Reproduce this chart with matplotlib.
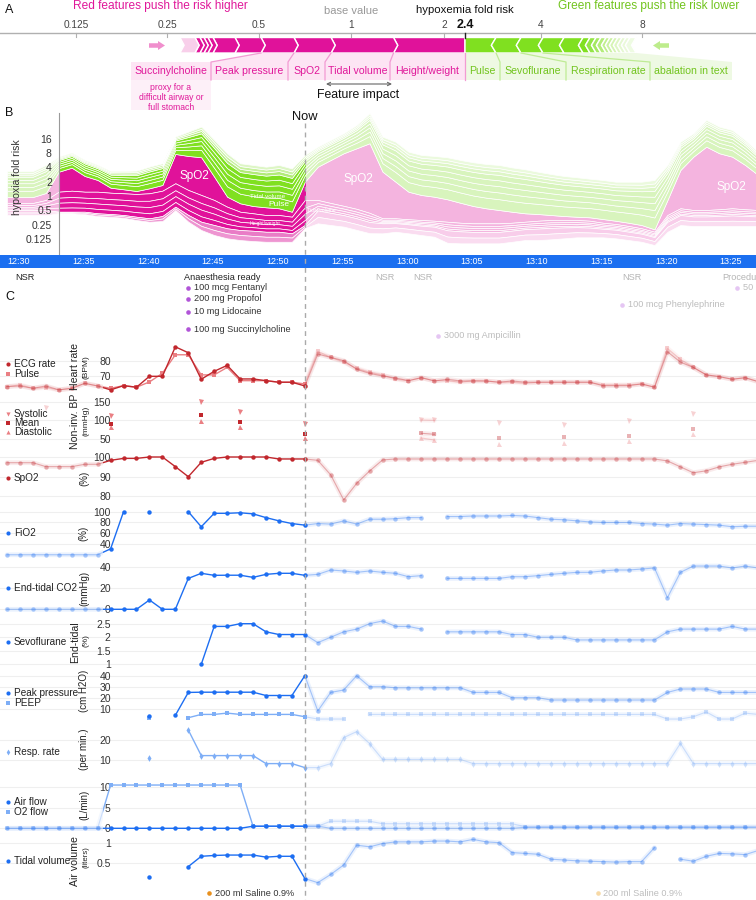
import numpy as np
import matplotlib
matplotlib.use('Agg')
import matplotlib.pyplot as plt
from matplotlib.patches import Polygon, Rectangle, FancyArrow

plt.rcParams['font.family'] = ['Liberation Sans', 'DejaVu Sans']

nan = np.nan
# ---------------------------------------------------------------- data
# Panel A : force plot (contributions in doublings = log2 fold risk)
output_risk = 2.4
axis_ticks = [0.125, 0.25, 0.5, 1, 2, 4, 8]
axis_tick_labels = ['0.125', '0.25', '0.5', '1', '2', '4', '8']
red_features = ['Height/weight', 'Tidal volume', 'SpO2', 'Peak pressure', 'Succinylcholine',
                'r6', 'r7', 'r8', 'r9', 'r10', 'r11']
red_push_log2 = [0.806, 0.674, 0.403, 0.358, 0.283, 0.239, 0.055, 0.043, 0.044, 0.054, 0.163]
green_features = ['Pulse', 'Sevoflurane', 'Respiration rate', 'abalation in text',
                  'g5', 'g6', 'g7', 'g8', 'g9', 'g10', 'g11', 'g12', 'g13', 'g14', 'g15', 'g16']
green_push_log2 = [0.301, 0.242, 0.214, 0.208, 0.188, 0.069, 0.060, 0.049, 0.050, 0.039,
                   0.040, 0.039, 0.040, 0.040, 0.039, 0.060]
red_box_labels = ['Succinylcholine', 'Peak pressure', 'SpO2', 'Tidal volume', 'Height/weight']
green_box_labels = ['Pulse', 'Sevoflurane', 'Respiration rate', 'abalation in text']

# Panel B : risk over time (one sample per minute, index 0 = 12:29)
minutes = np.arange(59)
now_index = 23
out_log2 = [
    -0.07, -0.07, -0.07, 0.21, 1.70, 1.98, 1.40, 1.12, 0.58, 0.47,
    0.35, 0.54, 0.77, 2.94, 2.80, 2.71, 1.35, -0.05, -0.51, -0.70,
    -0.79, -0.86, -1.10, 1.00, 2.05, 2.52, 2.99, 3.34, 3.69, 1.70,
    1.00, 0.30, 0.07, -0.05, -0.23, -0.47, -0.70, -0.86, -0.98, -1.10,
    -1.21, -1.26, -1.33, -1.40, -1.45, -1.49, -1.61, -1.73, -1.87, -2.03,
    -2.33, -0.28, 1.82, 2.75, 3.45, 2.99, 2.75, 2.17, 1.47]
spo2_log2 = [
    0.42, 0.42, 0.42, 0.49, 1.40, 1.61, 1.10, 0.82, 0.35, 0.28,
    0.21, 0.35, 0.40, 2.05, 2.38, 2.64, 1.63, 0.70, 0.59, 0.51,
    0.54, 0.47, 0.35, 1.28, 2.33, 3.01, 3.68, 4.24, 4.87, 3.26,
    2.56, 1.93, 1.75, 1.68, 1.57, 1.40, 1.21, 1.05, 0.93, 0.77,
    0.59, 0.47, 0.35, 0.28, 0.23, 0.24, 0.26, 0.23, 0.23, 0.23,
    0.17, 1.05, 2.68, 3.73, 4.43, 3.92, 3.61, 3.10, 2.45]
red_minor_log2 = [
    0.49, 0.49, 0.49, 0.70, 1.40, 1.47, 1.40, 1.51, 1.49, 1.52,
    1.59, 1.75, 1.77, 1.64, 1.75, 1.87, 1.75, 1.51, 1.28, 1.22,
    1.17, 1.17, 1.16, 1.75, 0.73, 0.69, 0.65, 0.66, 0.64, 0.35,
    0.34, 0.35, 0.40, 0.42, 0.60, 0.60, 0.60, 0.60, 0.60, 0.55,
    0.52, 0.55, 0.55, 0.52, 0.50, 0.48, 0.42, 0.40, 0.40, 0.38,
    0.38, 0.47, 0.47, 0.45, 0.45, 0.47, 0.50, 0.47, 0.45]
red_light_log2 = [
    0.35, 0.35, 0.35, 0.35, 0.11, 0.11, 0.16, 0.19, 0.19, 0.19,
    0.23, 0.24, 0.35, 0.23, 0.47, 0.58, 0.70, 0.70, 0.70, 0.72,
    0.70, 0.70, 0.59, 0.21, 0.90, 0.85, 0.80, 0.81, 0.78, 0.70,
    0.60, 0.63, 0.65, 0.70, 0.87, 0.84, 0.80, 0.80, 0.80, 0.78,
    0.76, 0.80, 0.80, 0.76, 0.71, 0.68, 0.60, 0.60, 0.58, 0.56,
    0.55, 0.70, 0.70, 0.67, 0.67, 0.70, 0.74, 0.70, 0.67]
green_log2 = [
    1.82, 1.82, 1.82, 1.96, 1.05, 1.05, 1.12, 1.05, 1.17, 1.28,
    1.42, 1.51, 1.52, 1.21, 1.70, 2.14, 2.57, 3.03, 2.80, 2.87,
    2.84, 3.03, 3.03, 1.87, 1.40, 1.40, 1.40, 1.63, 2.10, 2.45,
    2.80, 2.80, 2.80, 2.85, 2.94, 2.99, 3.06, 3.10, 3.15, 3.10,
    3.08, 2.96, 2.87, 2.80, 2.76, 2.70, 2.73, 2.73, 2.87, 3.03,
    3.45, 2.45, 1.98, 1.63, 1.87, 1.86, 1.87, 1.75, 1.61]
red_minor_share = [0.30, 0.25, 0.25, 0.20]
red_light_share = [0.5, 0.5]
green_share = [0.24, 0.15, 0.14, 0.13, 0.12, 0.08, 0.07, 0.07]
risk_ticks = [0.125, 0.25, 0.5, 1, 2, 4, 8, 16]
clock_labels = ['12:30', '12:35', '12:40', '12:45', '12:50', '12:55',
                '13:00', '13:05', '13:10', '13:15', '13:20', '13:25']
clock_first_pos = 0.9
events = ['NSR', 'Anaesthesia ready', 'NSR', 'NSR', 'NSR', 'Procedure']
event_pos = [0.6, 13.7, 28.4, 31.35, 47.5, 55.2]
meds = ['100 mcg Fentanyl', '200 mg Propofol', '10 mg Lidocaine', '100 mg Succinylcholine',
        '3000 mg Ampicillin', '100 mcg Phenylephrine', '50 mcg Phenylephrine']
med_pos = [14.0, 14.0, 14.0, 14.0, 33.3, 47.5, 56.4]
fluids = ['200 ml Saline 0.9%', '200 ml Saline 0.9%']
fluid_pos = [15.6, 45.6]

# Panel C : vital signs
ecg_rate = [
    63.4, 63.8, 62.3, 63.8, 61.3, 62.3, 65.5, 63.8, 61.3, 64.0,
    63.0, 70.0, 70.0, 88.9, 85.1, 68.1, 73.2, 77.0, 68.3, 68.3,
    67.2, 66.2, 66.2, 63.8, 84.3, 82.1, 80.0, 74.5, 71.9, 70.2,
    68.9, 67.2, 69.1, 67.0, 68.1, 67.0, 67.0, 67.0, 66.2, 67.0,
    66.2, 66.2, 66.2, 66.2, 66.2, 66.2, 64.0, 64.0, 64.0, 65.1,
    63.0, 85.7, 79.1, 75.7, 70.9, 69.8, 68.1, 69.1, 66.6]
pulse = [
    63.4, 64.5, 62.3, 62.8, 61.3, 62.3, 65.5, 63.8, 62.3, 64.0,
    63.0, 66.4, 71.9, 83.8, 83.8, 70.9, 70.9, 75.7, 67.2, 67.2,
    67.2, 66.2, 66.2, 65.1, 86.0, 82.1, 79.1, 75.1, 72.6, 70.9,
    68.1, 67.2, 69.1, 67.2, 67.2, 66.2, 67.2, 67.0, 66.2, 66.2,
    65.5, 66.2, 66.2, 66.2, 66.2, 66.2, 64.5, 64.5, 64.5, 65.1,
    63.0, 87.9, 80.9, 75.7, 70.9, 69.8, 68.1, 69.1, 66.6]
nibp_minutes = [3, 8, 15, 18, 23, 32, 33, 38, 43, 48, 53]
nibp_systolic = [132, 112.8, 150, 123.5, 89.8, 101.3, 100.4, 94.2, 87.2, 97.8, 117.3]
nibp_mean = [nan, 89.8, 113.7, 96.9, 65.0, 66.0, 63.3, 54.4, 55.3, 59.7, 76.5]
nibp_diastolic = [nan, 83.6, 97.8, 82.7, 54.4, 53.5, 48.0, 37.6, 41.2, 44.7, 63.3]
spo2_pct = [
    97.1, 97.1, 97.1, 95.1, 95.1, 95.1, 96.3, 96.3, 98.3, 99.3,
    99.3, 100, 100, 95.1, 90.0, 97.3, 99.3, 100, 100, 100,
    100, 99, 99, 99, 98.3, 90.9, 78.2, 86.6, 92.9, 98.5,
    99, 99, 99, 99, 99, 99, 99, 99, 99, 99,
    99, 99, 99, 99, 99, 99, 99, 99, 99, 99,
    99, 98, 95, 92, 93, 95, 96.3, 97.3, 98.3]
fio2_pct = [
    20, 20, 20, 20, 20, 20, 20, 20, 31, 100,
    nan, 100, nan, nan, 100, 72, 97, 97, 98, 96,
    89, 83, 78, 75, 78, 77, 83, 77, 86, 86,
    87, 89, 89, nan, 91, 91, 92, 92, 92, 93,
    92, 89, 86, 85, 83, 81, 80, 80, 80, 78,
    77, 75, 78, 77, 76, 75, 72, 73, 73]
etco2_mmhg = [
    0, 0, 0, 0, 0, 0, 0, 0, 0, 0,
    0, 8.75, 0, 0, 29, 33.8, 31.9, 32, 32, 30,
    32.8, 33.8, 33.8, 31.9, 32.8, 36.9, 36, 34.7, 36, 34.7,
    33.8, 30.6, 31.6, nan, 29, 29, 29, 29, 29, 30.6,
    30.6, 31.6, 32.8, 33.8, 34.7, 34.7, 36, 36.9, 36.9, 37.8,
    38.8, 10.9, 34.7, 40.6, 40.6, 40.6, 38.8, 40.6, 38.8]
sevo_pct = [
    nan, nan, nan, nan, nan, nan, nan, nan, nan, nan,
    nan, nan, nan, nan, nan, 1.0, 2.4, 2.4, 2.5, 2.5,
    2.2, 2.1, 2.1, 2.1, 1.8, 2.0, 2.2, 2.3, 2.5, 2.6,
    2.4, 2.4, 2.3, nan, 2.2, 2.2, 2.2, 2.2, 2.2, 2.1,
    2.1, 2.0, 2.0, 2.0, 1.9, 1.9, 1.9, 1.9, 1.9, 1.9,
    1.9, 2.2, 2.3, 2.3, 2.3, 2.3, 2.4, 2.3, 2.3]
peak_pressure = [
    nan, nan, nan, nan, nan, nan, nan, nan, nan, nan,
    nan, 3.3, nan, 4.0, 24.8, 25, 25, 25, 25, 25,
    22, 22, 22, 40, 8, 24.8, 27, 40, 30, 30,
    29, 29, 29, 29, 29, 29, 24.8, 24.8, 24.8, 20,
    20, 20, 17.9, 17.9, 17.9, 17.9, 17.9, 17.9, 17.9, 17.9,
    17.9, 24.8, 27.9, 27.9, 27.9, 24.8, 24.8, 24.8, 24.8]
peep = [
    nan, nan, nan, nan, nan, nan, nan, nan, nan, nan,
    nan, 1.8, nan, nan, 1.8, 4.8, 4.8, 6.0, 4.8, 4.8,
    4.8, 4.8, 4.8, 2.7, 0.6, 0.6, 0.6, nan, 4.8, 4.8,
    4.8, 4.8, 4.8, 4.8, 4.8, 4.8, 4.8, 4.8, 4.8, 4.8,
    4.8, 4.8, 4.8, 4.8, 4.8, 4.8, 4.8, 4.8, 4.8, 4.8,
    4.8, 0.6, 0.6, 2.7, 7.0, 0.6, 0.6, 6.0, 4.8]
resp_rate = [
    nan, nan, nan, nan, nan, nan, nan, nan, nan, nan,
    nan, 11.2, nan, nan, 25, 12.2, 12.2, 12.2, 12.2, 12.2,
    8.2, 8.2, 8.2, 6.2, 6.2, 8.2, 21.2, 24.2, 18.2, 10.3,
    10.3, 10.3, 10.3, 10.3, 10.3, 10.3, 8.2, 8.2, 8.2, 8.2,
    8.2, 8.2, 8.2, 8.2, 8.2, 8.2, 8.2, 8.2, 8.2, 8.2,
    8.2, 8.2, 18.3, 8.2, 8.2, 8.2, 8.2, 8.2, 8.2]
air_flow = [
    0, 0, 0, 0, 0, 0, 0, 0, 0, 0,
    0, 0, 0, 0, 0, 0, 0, 0, 0, 0.5,
    0.5, 0.5, 0.5, 0.5, 0.5, 0, 0, 0, 0, 0,
    0, 0, 0, 0, 0, 0, 0, 0, 0, 0,
    0.2, 0.2, 0.2, 0.2, 0.2, 0.2, 0.2, 0.2, 0.2, 0.2,
    0.2, 0.2, 0.2, 0.2, 0.2, 0.2, 0.2, 0.2, 0.2]
o2_flow = [
    0, 0, 0, 0, 0, 0, 0, 0, 10.4, 10.4,
    10.4, 10.4, 10.4, 10.4, 10.4, 10.4, 10.4, 10.4, 10.4, 0.5,
    0.5, 0.5, 0.5, 0.5, 0.5, 1.7, 1.7, 1.7, 1.7, 1.1,
    1.1, 1.1, 1.1, 1.1, 1.1, 1.1, 1.1, 1.1, 1.1, 1.1,
    0.4, 0.4, 0.4, 0.4, 0.4, 0.4, 0.4, 0.4, 0.4, 0.4,
    0.4, 0.4, 0.4, 0.4, 0.4, 0.4, 0.4, 0.4, 0.4]
tidal_volume = [
    nan, nan, nan, nan, nan, nan, nan, nan, nan, nan,
    nan, 0.17, nan, nan, 0.42, 0.67, 0.69, 0.70, 0.70, 0.70,
    0.65, 0.67, 0.67, 0.13, 0.03, 0.23, 0.46, 0.94, 0.90, 0.98,
    1.02, 1.02, 1.02, 1.04, 1.04, 1.02, 1.08, 1.02, 1.00, 0.76,
    0.74, 0.72, 0.60, 0.58, 0.56, 0.55, 0.54, 0.53, 0.54, 0.54,
    0.88, nan, 0.60, 0.55, 0.67, 0.74, 0.73, 0.71, 0.81]

# ---------------------------------------------------------------- style
MAG = '#e0129a'
GRN = '#80e020'
DRED = '#c1272d'
LRED = '#ea7f83'
BLUE = '#1d6ef2'
LBLUE = '#7eaef6'
PURPLE = '#b154d8'
W, H = 756.0, 900.0
X0, X1 = -0.5405, 57.838
ACTIVE_START = 7.45

fig = plt.figure(figsize=(7.56, 9.0), dpi=100)


def px_axes(x0, y0, x1, y1, z=1):
    ax = fig.add_axes([x0 / W, 1 - y1 / H, (x1 - x0) / W, (y1 - y0) / H], zorder=z)
    ax.patch.set_alpha(0)
    return ax


ax_px = px_axes(0, 0, 756, 900, z=6)
ax_px.set_xlim(0, 756); ax_px.set_ylim(900, 0); ax_px.axis('off')
ax_tm = px_axes(0, 0, 756, 900, z=6)
ax_tm.set_xlim(X0, X1); ax_tm.set_ylim(900, 0); ax_tm.axis('off')

# ================================================================ Panel A
kl = [-3.826, -3, -2, -1, 0, 1, np.log2(2.4), 2, 3, 4.129]
kp = [0, 76, 167, 259, 351, 444, 465, 541, 642, 756]


def fwdA(v):
    return np.interp(v, kl, kp)


def invA(p):
    return np.interp(p, kp, kl)


axA = px_axes(0, 0, 756, 125, z=3)
axA.set_xscale('function', functions=(fwdA, invA))
axA.set_xlim(kl[0], kl[-1]); axA.set_ylim(125, 0); axA.axis('off')

out_l = np.log2(output_risk)
axA.plot([kl[0], kl[-1]], [33, 33], color='#b0b0b0', lw=1)
for t, lab in zip(axis_ticks, axis_tick_labels):
    axA.plot([np.log2(t)] * 2, [33, 36.5], color='#b0b0b0', lw=0.8)
    axA.text(np.log2(t), 25, lab, ha='center', va='center', fontsize=7.3, color='#444')
axA.plot([out_l, out_l], [33, 38], color='#222', lw=1)
axA.text(out_l, 24.5, '2.4', ha='center', va='center', fontsize=9, fontweight='bold', color='#111')
axA.text(out_l, 10, 'hypoxemia fold risk', ha='center', va='center', fontsize=8.2, color='#111')
axA.text(0, 11, 'base value', ha='center', va='center', fontsize=8, color='#999')

top_y, bot_y, mid_y = 37.5, 53.0, 45.25
cdep = 0.045
red_cols = [MAG] * 10 + ['#f8cfea']
cum = out_l
red_bounds = []
for k, (v, col) in enumerate(zip(red_push_log2, red_cols)):
    a, b = cum - v, cum
    cr = 0 if k == 0 else cdep
    verts = [(a, top_y), (b, top_y), (b + cr, mid_y), (b, bot_y), (a, bot_y), (a + cdep, mid_y)]
    axA.add_patch(Polygon(verts, closed=True, facecolor=col, edgecolor='white', lw=1.0))
    red_bounds.append(a)
    cum = a
green_cols = [GRN] * 6 + ['#94e545', '#a4e961', '#b3ec79', '#c0ef8f', '#cbf2a3',
                          '#d5f4b4', '#def6c4', '#e5f8d1', '#eaf9da', '#eefbe2']
cum = out_l
green_bounds = []
for k, (v, col) in enumerate(zip(green_push_log2, green_cols)):
    a, b = cum, cum + v
    cl = 0 if k == 0 else cdep
    verts = [(a, top_y), (b, top_y), (b - cdep, mid_y), (b, bot_y), (a, bot_y), (a - cl, mid_y)]
    axA.add_patch(Polygon(verts, closed=True, facecolor=col, edgecolor='white', lw=1.0))
    green_bounds.append(b)
    cum = b
green_end = cum

# label boxes (pixel layout)
red_div = [131, 211, 288, 325, 390, 465]
green_div = [465, 500, 566, 650, 732]
bx_top, bx_bot = 62, 80
p_out = float(fwdA(out_l))
p_peak = float(fwdA(red_bounds[3]))
ax_px.add_patch(Polygon([(131, bx_top), (211, bx_top), (p_peak, bot_y), (p_out, bot_y),
                         (p_out, bx_bot), (131, bx_bot)], closed=True, facecolor='#fde5f4', lw=0))
ax_px.add_patch(Rectangle((131, bx_bot), 80, 30, facecolor='#fdf0f8', lw=0))
p_gend = float(fwdA(green_end))
ax_px.add_patch(Polygon([(p_out, bot_y), (p_gend, bot_y), (732, bx_top), (732, bx_bot),
                         (p_out, bx_bot)], closed=True, facecolor='#eef9e3', lw=0))
for k, div in enumerate([390, 325, 288, 211]):
    pb = float(fwdA(red_bounds[k]))
    ax_px.plot([pb, div, div], [bot_y, bx_top, bx_bot], color='#f29bd3', lw=0.9)
ax_px.plot([p_out, p_out], [bot_y, bx_bot], color='#f29bd3', lw=0.9)
for k, div in enumerate([500, 566, 650]):
    pb = float(fwdA(green_bounds[k]))
    ax_px.plot([pb, div, div], [bot_y, bx_top, bx_bot], color='#bfeb95', lw=0.9)
for lab, a, b in zip(red_box_labels, red_div[:-1], red_div[1:]):
    ax_px.text((a + b) / 2, 71, lab, ha='center', va='center', fontsize=7.6, color='#e0189a')
for lab, a, b in zip(green_box_labels, green_div[:-1], green_div[1:]):
    ax_px.text((a + b) / 2, 71, lab, ha='center', va='center', fontsize=7.6, color='#72c41e')
for yy, line in zip([87, 97, 107], ['proxy for a', 'difficult airway or', 'full stomach']):
    ax_px.text(171, yy, line, ha='center', va='center', fontsize=6.2, color='#e0189a')

ax_px.add_patch(FancyArrow(149, 45.5, 9, 0, width=4.5, head_width=9, head_length=7,
                           length_includes_head=False, color='#f08fcd', lw=0))
ax_px.add_patch(FancyArrow(669, 45.5, -9, 0, width=4.5, head_width=9, head_length=7,
                           length_includes_head=False, color='#bdec8c', lw=0))
ax_px.annotate('', xy=(326, 84), xytext=(392, 84),
               arrowprops=dict(arrowstyle='<->', color='#666', lw=0.8, mutation_scale=6,
                               shrinkA=0, shrinkB=0))
ax_px.text(358, 95, 'Feature impact', ha='center', va='center', fontsize=8.8, color='#111')
ax_px.text(160, 6, 'Red features push the risk higher', ha='center', va='center',
           fontsize=8.6, color='#e0189a')
ax_px.text(649, 6, 'Green features push the risk lower', ha='center', va='center',
           fontsize=8.6, color='#72c41e')
for lab, yy in [('A', 10), ('B', 113), ('C', 297)]:
    ax_px.text(5, yy, lab, ha='left', va='center', fontsize=9, color='#111')

# ================================================================ Panel B
axB = px_axes(0, 105, 756, 255, z=2)
axB.set_xlim(X0, X1)
axB.set_ylim(-4.126, 6.364)
out = np.array(out_log2)
spo2_l = np.array(spo2_log2)
minor_l = np.array(red_minor_log2)
light_l = np.array(red_light_log2)
green_l = np.array(green_log2)
layers = []
cur = out.copy()
layers.append((cur - spo2_l, cur)); cur = cur - spo2_l
for s in red_minor_share:
    lo = cur - minor_l * s
    layers.append((lo, cur)); cur = lo
for s in red_light_share:
    lo = cur - light_l * s
    layers.append((lo, cur)); cur = lo
cur = out.copy()
for s in green_share:
    hi = cur + green_l * s
    layers.append((cur, hi)); cur = hi
sat_cols = [MAG, MAG, MAG, MAG, MAG, '#e97cc6', '#ee95d1',
            GRN, GRN, GRN, GRN, GRN, '#b2eb78', '#c8f19f', '#ddf6c5']
fad_cols = ['#f4b4df', '#f4b4df', '#f4b4df', '#f4b4df', '#f4b4df', '#f8cdea', '#fadcf0',
            '#d8f4bd', '#d8f4bd', '#d8f4bd', '#d8f4bd', '#d8f4bd', '#def6c7', '#e4f8d1', '#ebfadd']
for (lo, hi), col in zip(layers, fad_cols):
    axB.fill_between(minutes, lo, hi, facecolor=col, edgecolor='white', lw=0.5)
for (lo, hi), col in zip(layers, sat_cols):
    pc = axB.fill_between(minutes, lo, hi, facecolor=col, edgecolor='white', lw=0.5)
    pc.set_clip_path(Rectangle((4.0, -10), now_index - 4.0, 30, transform=axB.transData))
for sp in ['top', 'right', 'bottom']:
    axB.spines[sp].set_visible(False)
axB.spines['left'].set_position(('data', 4.0))
axB.spines['left'].set_bounds(-4.126, 5.8)
axB.spines['left'].set_color('#9a9a9a')
axB.set_yticks(np.log2(risk_ticks))
axB.set_yticklabels([str(t) for t in risk_ticks])
axB.tick_params(axis='y', length=0, pad=5, labelsize=7.5, labelcolor='#333')
axB.set_xticks([])
fig.text(17 / W, 1 - 177 / H, 'hypoxia fold risk', rotation=90, ha='center', va='center',
         fontsize=7.6, color='#333')
for txt, x, y, fs in [('SpO2', 194, 176, 8.5), ('SpO2', 358, 179, 8.5), ('SpO2', 731, 187, 8.5),
                      ('Tidal volume', 268, 197, 4.5), ('Pulse', 279, 205, 6),
                      ('Height/weight', 265, 223, 3.6), ('Tidal volume', 321, 211, 3.6)]:
    ax_px.text(x, y, txt, ha='center', va='center', fontsize=fs, color='white')
ax_tm.text(now_index, 117, 'Now', ha='center', va='center', fontsize=9.3, color='#111')
ax_tm.plot([now_index, now_index], [123, 900], color='#aaaaaa', lw=1, ls=(0, (3.5, 3)))

# time bar
axT = px_axes(0, 255, 756, 268, z=2)
axT.set_xlim(X0, X1); axT.set_ylim(0, 1); axT.axis('off')
axT.add_patch(Rectangle((X0, 0), X1 - X0, 1, facecolor='#1b6ff0', lw=0))
for k, lab in enumerate(clock_labels):
    axT.text(clock_first_pos + 5 * k, 0.5, lab, ha='center', va='center', fontsize=6.5, color='white')

for k, (ev, pos) in enumerate(zip(events, event_pos)):
    col = '#222' if pos < now_index else '#b5b5b5'
    ax_tm.text(pos, 278, ev, ha='left', va='center', fontsize=6.6, color=col)
med_y = [287.5, 298.5, 312, 329, 336, 304.5, 288]
for med, pos, yy in zip(meds, med_pos, med_y):
    past = pos < now_index
    ax_tm.plot(pos, yy, 'o', ms=3.3, color=PURPLE if past else '#e5c6f3', mew=0)
    ax_tm.text(pos + 0.45, yy, med, ha='left', va='center', fontsize=6.6,
               color='#333' if past else '#bdbdbd')
for fl, pos in zip(fluids, fluid_pos):
    past = pos < now_index
    ax_tm.plot(pos, 893, 'o', ms=3.3, color='#e8901e' if past else '#f7d9a6', mew=0)
    ax_tm.text(pos + 0.45, 893, fl, ha='left', va='center', fontsize=6.6,
               color='#333' if past else '#bdbdbd')

# ================================================================ Panel C


def val_axes(top, bot, r1, r2, ticks):
    (v1, p1), (v2, p2) = r1, r2
    s = (p2 - p1) / (v2 - v1)
    vtop = v1 + (top - p1) / s
    vbot = v1 + (bot - p1) / s
    ax = px_axes(0, top, 756, bot, z=2)
    ax.set_xlim(X0, X1); ax.set_ylim(vbot, vtop)
    for sp in ax.spines.values():
        sp.set_visible(False)
    ax.spines['left'].set_position(('data', 8.28))
    ax.set_yticks(ticks)
    ax.set_yticklabels([('%g' % t) for t in ticks])
    ax.tick_params(axis='y', length=0, pad=2.5, labelsize=7.5, labelcolor='#333')
    ax.set_xticks([])
    for t in ticks:
        ax.axhline(t, color='#efefef', lw=0.8, zorder=0)
    return ax


def clip_rect(ax, a, b):
    lo, hi = ax.get_ylim()
    return Rectangle((a, lo - (hi - lo)), b - a, 3 * (hi - lo), transform=ax.transData)


def series(ax, y, color, marker, ms=3.2, lw=1.0):
    y = np.asarray(y, float)
    for a, b in [(X0 - 1, ACTIVE_START), (now_index, X1 + 1)]:
        l1, = ax.plot(minutes, y, color=color, lw=3.4, alpha=0.09, solid_capstyle='round')
        l1.set_clip_path(clip_rect(ax, a, b))
        l2, = ax.plot(minutes, y, color=color, lw=0.8, alpha=0.35)
        l2.set_clip_path(clip_rect(ax, a, b))
    act = (minutes >= 8) & (minutes <= now_index)
    ax.plot(minutes, np.where(act, nan, y), ls='none', marker=marker, ms=ms, color=color,
            alpha=0.35, mew=0, clip_on=False)
    l3, = ax.plot(minutes, y, color=color, lw=lw)
    l3.set_clip_path(clip_rect(ax, ACTIVE_START, now_index))
    ax.plot(minutes, np.where(act, y, nan), ls='none', marker=marker, ms=ms, color=color,
            mew=0, clip_on=False)


def full(mins, vals):
    arr = np.full(len(minutes), nan)
    arr[np.array(mins)] = vals
    return arr


axHR = val_axes(335, 398, (80, 360.7), (70, 376.3), [70, 80])
series(axHR, pulse, LRED, 's', ms=2.8)
series(axHR, ecg_rate, DRED, 'o')

axBP = val_axes(396, 447, (150, 401.7), (50, 439.3), [50, 100, 150])
series(axBP, full(nibp_minutes, nibp_systolic), LRED, 'v', ms=3.6)
series(axBP, full(nibp_minutes, nibp_diastolic), LRED, '^', ms=3.6)
series(axBP, full(nibp_minutes, nibp_mean), DRED, 's', ms=3.0)

axSp = val_axes(449, 502, (100, 457), (90, 476.7), [80, 90, 100])
series(axSp, spo2_pct, DRED, 'o')

axFi = val_axes(505, 558, (100, 511.7), (40, 544), [40, 60, 80, 100])
series(axFi, fio2_pct, BLUE, 'o')

axCO = val_axes(560, 613, (40, 566.7), (0, 609.3), [0, 20, 40])
series(axCO, etco2_mmhg, BLUE, 'o')

axSe = val_axes(616, 668, (2.5, 623.7), (1, 664.3), [1, 1.5, 2, 2.5])
series(axSe, sevo_pct, BLUE, 'o')

axPP = val_axes(670, 721, (40, 675.7), (10, 708.7), [10, 20, 30, 40])
series(axPP, peep, LBLUE, 's', ms=2.8)
series(axPP, peak_pressure, BLUE, 'o')

axRR = val_axes(722, 775, (20, 740), (10, 760), [10, 20])
series(axRR, resp_rate, LBLUE, 'd', ms=3.4)

axAF = val_axes(778, 833, (10, 786.7), (0, 828.3), [0, 5, 10])
series(axAF, o2_flow, LBLUE, 's', ms=2.8)
series(axAF, air_flow, BLUE, 'o')

axTV = val_axes(836, 890, (1, 842.7), (0.5, 863.3), [0.5, 1])
series(axTV, tidal_volume, BLUE, 'o')

# axis titles
for txt, x, y, fs in [('Heart rate', 75, 367, 7.6), ('(BPM)', 85.5, 367, 6.0),
                      ('Non-inv. BP', 75, 421, 7.6), ('(mmHg)', 85.5, 421, 6.0),
                      ('(%)', 84, 478, 7.0), ('(%)', 83, 533, 7.0), ('(mmHg)', 84, 588, 7.0),
                      ('End-tidal', 75, 642, 7.6), ('(%)', 85.5, 641, 6.0),
                      ('(cm H2O)', 84, 691, 7.0), ('(per min.)', 84, 749, 7.0),
                      ('(L/min)', 84, 805, 7.0),
                      ('Air volume', 75, 861, 7.6), ('(liters)', 85.5, 857, 5.6)]:
    ax_px.text(x, y, txt, rotation=90, ha='center', va='center', fontsize=fs, color='#222')

legend_items = [('o', DRED, 'ECG rate', 364), ('s', LRED, 'Pulse', 374),
                ('v', LRED, 'Systolic', 414), ('s', DRED, 'Mean', 423), ('^', LRED, 'Diastolic', 432),
                ('o', DRED, 'SpO2', 478), ('o', BLUE, 'FiO2', 533), ('o', BLUE, 'End-tidal CO2', 588),
                ('o', BLUE, 'Sevoflurane', 642), ('o', BLUE, 'Peak pressure', 693),
                ('s', LBLUE, 'PEEP', 703), ('d', LBLUE, 'Resp. rate', 752),
                ('o', BLUE, 'Air flow', 802), ('s', LBLUE, 'O2 flow', 812),
                ('o', BLUE, 'Tidal volume', 861)]
for mk, col, lab, yy in legend_items:
    ax_px.plot(8, yy, marker=mk, ms=3.0, color=col, mew=0)
    ax_px.text(14, yy, lab, ha='left', va='center', fontsize=7.2, color='#222')

fig.savefig('out.png', dpi=100)
